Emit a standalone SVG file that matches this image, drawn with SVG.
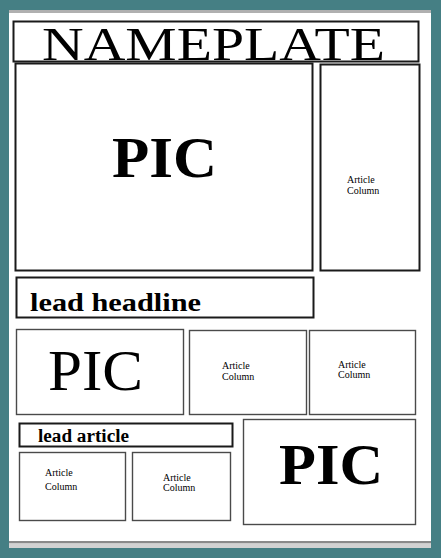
<svg xmlns="http://www.w3.org/2000/svg" width="441" height="558" viewBox="0 0 441 558">
<style>
.frame{fill:#457f84}
.box{fill:#fff;stroke:#1a1a1a;stroke-width:2}
.thin{fill:#fff;stroke:#4a4a4a;stroke-width:1.4}
.serif{font-family:"Liberation Serif","Times New Roman",serif;fill:#000}
.b{font-weight:bold}
.small{font-size:10px}
</style>
<rect class="frame" x="0" y="0" width="441" height="558"/>
<rect x="9" y="10" width="422" height="538" fill="#fff"/>
<rect x="9" y="10" width="422" height="3" fill="#b0b0b0"/>
<rect x="9" y="541" width="422" height="2.5" fill="#8a8a8a"/>
<rect x="9" y="543.5" width="422" height="4.5" fill="#d2d2d2"/>
<g id="nameplate">
<rect class="box" x="13.5" y="21.5" width="405" height="40" stroke-width="1.5"/>
<text class="serif" x="42" y="60" font-size="47" textLength="343" lengthAdjust="spacingAndGlyphs">NAMEPLATE</text>
</g>
<g id="pic-main">
<rect class="box" x="15.5" y="63.5" width="297" height="207"/>
<text class="serif b" x="112" y="177" font-size="57" textLength="105" lengthAdjust="spacingAndGlyphs">PIC</text>
</g>
<g id="article-right">
<rect class="box" x="320.5" y="64.5" width="99" height="206"/>
<text class="serif small" x="347" y="183">Article</text>
<text class="serif small" x="347" y="194">Column</text>
</g>
<g id="lead-headline">
<rect class="box" x="16.5" y="277.5" width="297" height="40"/>
<text class="serif b" x="30" y="311" font-size="26" textLength="171" lengthAdjust="spacingAndGlyphs">lead headline</text>
</g>
<g id="pic-second">
<rect class="thin" x="16.5" y="329.5" width="167" height="85"/>
<text class="serif" x="48" y="390" font-size="57" textLength="95" lengthAdjust="spacingAndGlyphs">PIC</text>
</g>
<g id="article-mid-1">
<rect class="thin" x="189.5" y="330.5" width="117" height="84"/>
<text class="serif small" x="222" y="369">Article</text>
<text class="serif small" x="222" y="379.5">Column</text>
</g>
<g id="article-mid-2">
<rect class="thin" x="309.5" y="330.5" width="106" height="84"/>
<text class="serif small" x="338" y="367.5">Article</text>
<text class="serif small" x="338" y="377.5">Column</text>
</g>
<g id="lead-article">
<rect class="box" x="19.5" y="423.5" width="213" height="23"/>
<text class="serif b" x="38" y="442" font-size="18" textLength="91" lengthAdjust="spacingAndGlyphs">lead article</text>
</g>
<g id="article-low-1">
<rect class="thin" x="19.5" y="452.5" width="106" height="68"/>
<text class="serif small" x="45" y="475.5">Article</text>
<text class="serif small" x="45" y="489.5">Column</text>
</g>
<g id="article-low-2">
<rect class="thin" x="132.5" y="452.5" width="98" height="68"/>
<text class="serif small" x="163" y="480.5">Article</text>
<text class="serif small" x="163" y="491">Column</text>
</g>
<g id="pic-low">
<rect class="thin" x="243.5" y="419.5" width="172" height="105"/>
<text class="serif b" x="279" y="484" font-size="57" textLength="104" lengthAdjust="spacingAndGlyphs">PIC</text>
</g>
<g id="connectors"/>
</svg>
